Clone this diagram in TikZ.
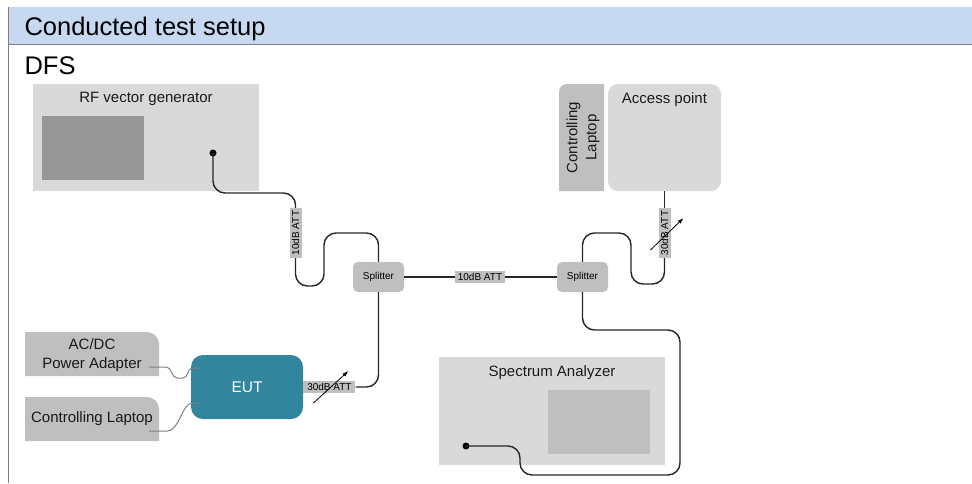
\documentclass[tikz,border=0pt]{standalone}
\usepackage{fontspec}
\setmainfont{Liberation Sans}
\usetikzlibrary{positioning,arrows.meta}

\definecolor{hdrblue}{HTML}{C6D9F0}
\definecolor{boxgray}{HTML}{D9D9D9}
\definecolor{midgray}{HTML}{BFBFBF}
\definecolor{scrgray}{HTML}{969696}
\definecolor{euteal}{HTML}{31859C}
\definecolor{cablecol}{HTML}{262626}
\definecolor{linegray}{HTML}{808080}

\begin{document}
\begin{tikzpicture}[x=1pt, y=-1pt,
		device/.style={fill=boxgray, inner sep=0pt},
		screen/.style={inner sep=0pt, minimum width=102pt, minimum height=64pt},
		title/.style={font=\fontsize{15}{19}\selectfont, text=black!90},
		bigtitle/.style={anchor=base west, font=\fontsize{25.5}{30}\selectfont},
		splitbox/.style={fill=midgray, rounded corners=5pt, minimum width=51pt, minimum height=30pt, font=\fontsize{10}{12}\selectfont},
		attbox/.style={fill=midgray, inner sep=0.5pt, minimum width=50pt, minimum height=12pt, font=\fontsize{10}{12}\selectfont},
		cable/.style={draw=cablecol, line width=1.4pt, rounded corners=12pt},
		supply/.style={draw=linegray, line width=1pt},
		varatt/.style={-{Latex[length=6pt,width=4pt]}, line width=0.8pt},
		port/.style={circle, fill=black, inner sep=0pt, minimum size=7pt}]
	\useasboundingbox (0,0) rectangle (972,483);

	% Header
	\fill[hdrblue] (8,7) rectangle (972,44);
	\draw[linegray] (8,44) -- (972,44);
	\draw[linegray] (8,7) -- (8,483);
	\node[bigtitle] (head) at (21,35) {Conducted test setup};
	\node[bigtitle] (dfs) at (21,74) {DFS};

	% RF vector generator
	\node[device, minimum width=226pt, minimum height=107pt] (rfgen) at (146,137.5) {};
	\node[title, below=5pt of rfgen.north] (rfgentxt) {RF vector generator};
	\node[screen, fill=scrgray] (rfscreen) at (93,148) {};
	\node[port] (rfport) at (213,153) {};

	% Access point and its laptop
	\node[device, rounded corners=10pt, minimum width=113pt, minimum height=107pt] (ap) at (664.5,137.5) {};
	\node[title, below=5pt of ap.north] (aptxt) {Access point};
	\fill[midgray] (604,191) -- (559,191) -- (559,150) {[rounded corners=8pt] -- (559,84) -- (590,84)} -- (604,84) -- cycle;
	\node[title, rotate=90, align=center] (laptopap) at (583,137.5) {Controlling\\Laptop};

	% EUT side
	\fill[midgray] (25,376) -- (25,332) -- (140,332) {[rounded corners=12pt] -- (159,332) -- (159,355)} -- (159,376) -- cycle;
	\fill[midgray] (25,441) -- (25,397) -- (140,397) {[rounded corners=12pt] -- (159,397) -- (159,420)} -- (159,441) -- cycle;
	\node[title, align=center, minimum width=134pt, minimum height=44pt, inner sep=0pt] (adapter) at (92,355) {AC/DC\\Power Adapter};
	\node[title, minimum width=134pt, minimum height=44pt, inner sep=0pt] (laptop) at (92,419) {Controlling Laptop};
	\node[fill=euteal, rounded corners=12pt, minimum width=112pt, minimum height=64pt, text=white, font=\fontsize{15.5}{18}\selectfont] (eut) at (247,387) {EUT};

	% Spectrum analyzer
	\node[device, minimum width=226pt, minimum height=108pt] (specan) at (552,411) {};
	\node[title, below=5pt of specan.north] (specantxt) {Spectrum Analyzer};
	\node[screen, fill=midgray] (sascreen) at (599,422) {};
	\node[port] (saport) at (466,446) {};

	% Splitters and attenuators
	\node[splitbox] (split1) at (378.5,277) {Splitter};
	\node[splitbox] (split2) at (582.5,277) {Splitter};
	\node[attbox, rotate=90] (att1) at (295.5,233) {10dB ATT};
	\node[attbox] (att2) at (480,277) {10dB ATT};
	\node[attbox, minimum width=52pt, anchor=west] (att3) at (eut.east) {30dB ATT};
	\node[attbox, rotate=90] (att4) at (664.5,233) {30dB ATT};

	% Cables
	\draw[cable] (rfport.center) |- (295.5,193) -- (att1.east);
	\draw[cable] (att1.west) -- (295.5,286) -- (324,286) -- (324,233) -- (split1.north |- 0,233) -- (split1.north);
	\draw[cable] (split1) -- (att2) -- (split2);
	\draw[cable] (split1.south) |- (att3.east);
	\draw[cable] (ap.south) -- (att4.east);
	\draw[cable] (att4.west) -- (664.5,284) -- (631,284) -- (631,233) -- (split2.north |- 0,233) -- (split2.north);
	\draw[cable] (split2.south) |- (680,330) -- (680,475) -- (520,475) -- (520,446) -- (saport.center);

	\draw[varatt] ([shift={(-16,16)}]att3.center) -- ([shift={(19,-16)}]att3.center);
	\draw[varatt] ([shift={(-14,17)}]att4.center) -- ([shift={(19,-15)}]att4.center);

	% Supply lines
	\draw[supply] ([shift={(-10,12)}]adapter.east) -- ++(17,0) .. controls +(6,0) and +(-6,0) .. ++(11,11) -- ++(6,0) .. controls +(5,0) and +(-5,0) .. ++(9,-10) -- ([shift={(8,-19)}]eut.west);
	\draw[supply] ([shift={(-10,12)}]laptop.east) -- ++(18,0) .. controls +(12,0) and +(-10,0) .. ++(25,-28) -- ([shift={(8,16)}]eut.west);
\end{tikzpicture}
\end{document}
